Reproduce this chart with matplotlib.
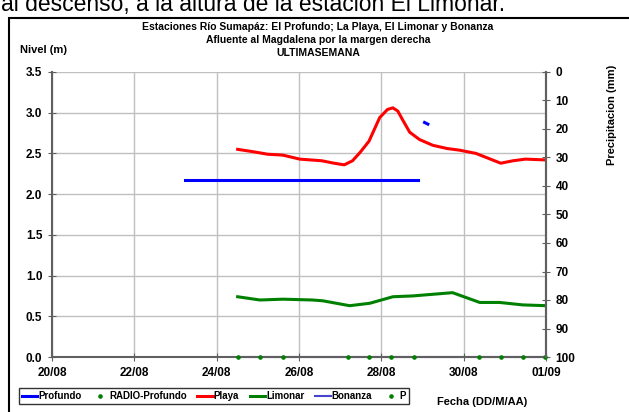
import matplotlib
matplotlib.use("Agg")
import matplotlib.pyplot as plt
from matplotlib.lines import Line2D
from matplotlib.patches import Rectangle

plt.rcParams['font.family'] = ['Liberation Sans', 'DejaVu Sans']

# dias desde 20/08 00:00
tick_days = [0, 2, 4, 6, 8, 10, 12]
tick_labels = ["20/08", "22/08", "24/08", "26/08", "28/08", "30/08", "01/09"]

profundo_x = [3.23, 5.5, 7.0, 8.9]
profundo_y = [2.17, 2.17, 2.17, 2.17]
profundo2_x = [9.05, 9.13]
profundo2_y = [2.88, 2.86]

playa_x = [4.51, 4.9, 5.24, 5.6, 6.02, 6.55, 6.85, 7.1, 7.3, 7.48, 7.7, 7.96, 8.15, 8.28, 8.4, 8.52, 8.69, 8.93, 9.25, 9.6, 9.9, 10.3, 10.6, 10.9, 11.2, 11.5, 12.0]
playa_y = [2.55, 2.52, 2.49, 2.48, 2.43, 2.41, 2.38, 2.36, 2.41, 2.51, 2.65, 2.94, 3.04, 3.06, 3.02, 2.91, 2.76, 2.67, 2.60, 2.56, 2.54, 2.50, 2.44, 2.38, 2.41, 2.43, 2.42]

limonar_x = [4.51, 5.05, 5.61, 6.33, 6.58, 7.23, 7.72, 8.28, 8.76, 9.73, 10.39, 10.87, 11.43, 12.01]
limonar_y = [0.74, 0.70, 0.71, 0.70, 0.69, 0.63, 0.66, 0.74, 0.75, 0.79, 0.67, 0.67, 0.64, 0.63]

bonanza_x = [4.51, 12.0]
bonanza_y = [0.0, 0.0]

p_x = [4.52, 5.05, 5.6, 7.18, 7.71, 8.24, 8.79, 10.38, 10.91, 11.45, 11.97]
p_y = [100, 100, 100, 100, 100, 100, 100, 100, 100, 100, 100]

fig = plt.figure(figsize=(6.29, 4.12), dpi=100)

# texto de arriba cortado y marco exterior
fig.text(1 / 629, 1 - 11 / 412, "al descenso, a la altura de la estación El Limonar.",
         ha='left', va='baseline', fontsize=16.5)
fig.patches.append(Rectangle((9 / 629, -0.1), 1.2, 1 - 18 / 412 + 0.1, transform=fig.transFigure,
                             fill=False, edgecolor='black', linewidth=1.5))

ax = fig.add_axes([52 / 629, 1 - 357 / 412, 494 / 629, 285 / 412])
ax.plot(profundo_x, profundo_y, color='#0000FF', linewidth=2.2)
ax.plot(profundo2_x, profundo2_y, color='#0000FF', linewidth=2.2)
ax.plot(playa_x, playa_y, color='#FF0000', linewidth=2.2)
ax.plot(limonar_x, limonar_y, color='#008000', linewidth=2.2)
ax.plot(bonanza_x, bonanza_y, color='#4444CC', linewidth=1.5, clip_on=False)

ax.set_xlim(0, 12)
ax.set_ylim(0, 3.5)
ax.set_xticks(tick_days)
ax.set_xticklabels(tick_labels)
ax.set_yticks([0, 0.5, 1.0, 1.5, 2.0, 2.5, 3.0, 3.5])
ax.set_yticklabels(["0.0", "0.5", "1.0", "1.5", "2.0", "2.5", "3.0", "3.5"])
ax.grid(True, color='#C0C0C0', linewidth=1)
ax.set_axisbelow(True)
for s in ['left', 'bottom', 'right']:
    ax.spines[s].set_color('#606060')
    ax.spines[s].set_linewidth(1.5)
ax.spines['top'].set_visible(False)
ax.tick_params(direction='inout', length=6, color='#606060', labelsize=8.5, pad=4)
for lab in ax.get_xticklabels() + ax.get_yticklabels():
    lab.set_fontweight('bold')

ax2 = ax.twinx()
ax2.plot(p_x, p_y, linestyle='none', marker='o', markersize=2.3, color='#008000', clip_on=False)
ax2.set_ylim(100, 0)
ax2.set_yticks(range(0, 101, 10))
ax2.tick_params(direction='inout', length=6, color='#606060', labelsize=8.5, pad=4)
for lab in ax2.get_yticklabels():
    lab.set_fontweight('bold')
for s in ax2.spines.values():
    s.set_visible(False)
ax2.spines['right'].set_visible(True)
ax2.spines['right'].set_color('#606060')
ax2.spines['right'].set_linewidth(1.5)

fig.text(612 / 629, 1 - 115 / 412, "Precipitacion (mm)", rotation=90, ha='center', va='center',
         fontsize=8, fontweight='bold')
fig.text(20 / 629, 1 - 50 / 412, "Nivel (m)", ha='left', va='center', fontsize=8, fontweight='bold')

titles = ["Estaciones Río Sumapáz: El Profundo; La Playa, El Limonar y Bonanza",
          "Afluente al Magdalena por la margen derecha",
          "ULTIMASEMANA"]
for i, t in enumerate(titles):
    fig.text(318 / 629, 1 - (27 + 13 * i) / 412, t, ha='center', va='center',
             fontsize=7.5, fontweight='bold')

fig.text(437 / 629, 1 - 402 / 412, "Fecha (DD/M/AA)", ha='left', va='center',
         fontsize=8, fontweight='bold')

handles = [
    Line2D([], [], color='#0000FF', linewidth=2.2),
    Line2D([], [], linestyle='none', marker='o', markersize=2.3, color='#008000'),
    Line2D([], [], color='#FF0000', linewidth=2.2),
    Line2D([], [], color='#008000', linewidth=2.2),
    Line2D([], [], color='#4444CC', linewidth=1.5),
    Line2D([], [], linestyle='none', marker='o', markersize=2.3, color='#008000'),
]
names = ["Profundo", "RADIO-Profundo", "Playa", "Limonar", "Bonanza", "P"]
leg = fig.legend(handles, names, loc='center', bbox_to_anchor=(214 / 629, 1 - 396 / 412),
                 ncol=6, fontsize=7, frameon=True, fancybox=False, edgecolor='black',
                 handlelength=1.6, handletextpad=0.1, columnspacing=1.1, borderpad=0.3)
leg.get_frame().set_linewidth(1)
for t in leg.get_texts():
    t.set_fontweight('bold')

fig.savefig("out.png", dpi=100)
